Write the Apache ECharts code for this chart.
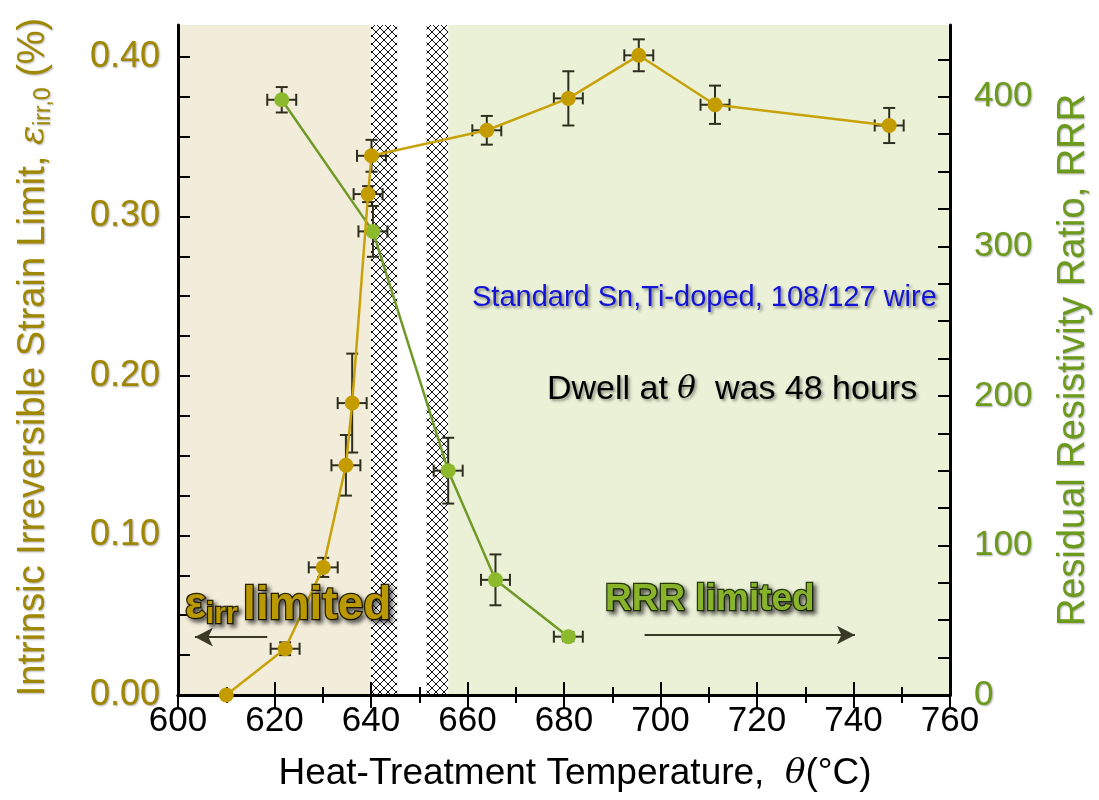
<!DOCTYPE html>
<html>
<head>
<meta charset="utf-8">
<script src="https://cdn.jsdelivr.net/npm/echarts@6/dist/echarts.min.js"></script>
<style>
  html, body { margin: 0; padding: 0; background: #fff; }
  #chart { width: 1099px; height: 800px; }
</style>
</head>
<body>
<div id="chart"></div>
<script>
// strain limit vs heat-treatment temperature
const tempStrain = [610, 622.2, 630.1, 634.8, 636.1, 639.4, 640.1, 664.0, 680.9, 695.5, 711.3, 747.4];
const strain = [0.000, 0.029, 0.080, 0.144, 0.183, 0.314, 0.338, 0.354, 0.374, 0.401, 0.370, 0.357];
const strainErr = [0, 0.004, 0.006, 0.019, 0.031, 0.005, 0.010, 0.009, 0.017, 0.010, 0.012, 0.011];
const tempErrStrain = [0, 3, 3, 3, 3, 3, 3, 3, 3, 3, 3, 3];

// RRR vs heat-treatment temperature
const tempRRR = [621.5, 640.4, 656.0, 665.8, 680.9];
const rrr = [398, 310, 150, 77, 39];
const rrrErr = [8.5, 17, 22, 17, 3];
const tempErrRRR = [3, 3, 3, 3, 3];

// background zones: beige | hatch | white | hatch | green
const zoneEdges = [600, 640, 645.5, 651.5, 656, 760];

// arrows under the "limited" labels (temperature from, to, strain level)
const arrowLeft = [618.5, 603.5, 0.0363];
const arrowRight = [696.7, 740.3, 0.0376];

const GOLD = '#c49c00';
const GOLD_TXT = '#a08700';
const GREEN = '#8cba2c';
const GREEN_LINE = '#6f9a28';
const GREEN_TXT = '#6c9a1c';
const FONT = '"Liberation Sans", Arial, sans-serif';

// crisp diamond cross-hatch tile
const hatch = document.createElement('canvas');
hatch.width = 8; hatch.height = 8;
(function () {
    const c = hatch.getContext('2d');
    c.fillStyle = '#fff';
    c.fillRect(0, 0, 8, 8);
    c.fillStyle = '#111';
    for (let i = 0; i < 8; i++) {
        c.fillRect(i, i, 1, 1);
        c.fillRect(7 - i, i, 1, 1);
    }
})();

const zoneFills = ['#f2ecda', {image: hatch, repeat: 'repeat'}, '#ffffff', {image: hatch, repeat: 'repeat'}, '#ebf1d7'];
const zones = [];
for (let i = 0; i < zoneFills.length; i++) {
    zones.push([{xAxis: zoneEdges[i], itemStyle: {color: zoneFills[i]}}, {xAxis: zoneEdges[i + 1]}]);
}

function errData(xs, ys, dxs, dys) {
    return xs.map((x, i) => [x, ys[i], dxs[i], dys[i]]);
}

function errRender(params, api) {
    const x = api.value(0), y = api.value(1), dx = api.value(2), dy = api.value(3);
    const l = api.coord([x - dx, y]), r = api.coord([x + dx, y]);
    const t = api.coord([x, y + dy]), b = api.coord([x, y - dy]);
    const cap = 6;
    const style = {stroke: '#2e2e1e', lineWidth: 2};
    const kids = [];
    if (dx > 0) {
        kids.push({type: 'line', shape: {x1: l[0], y1: l[1], x2: r[0], y2: r[1]}, style: style});
        kids.push({type: 'line', shape: {x1: l[0], y1: l[1] - cap, x2: l[0], y2: l[1] + cap}, style: style});
        kids.push({type: 'line', shape: {x1: r[0], y1: r[1] - cap, x2: r[0], y2: r[1] + cap}, style: style});
    }
    if (dy > 0) {
        kids.push({type: 'line', shape: {x1: t[0], y1: t[1], x2: b[0], y2: b[1]}, style: style});
        kids.push({type: 'line', shape: {x1: t[0] - cap, y1: t[1], x2: t[0] + cap, y2: t[1]}, style: style});
        kids.push({type: 'line', shape: {x1: b[0] - cap, y1: b[1], x2: b[0] + cap, y2: b[1]}, style: style});
    }
    return {type: 'group', children: kids};
}

const tickShadow = {textShadowColor: 'rgba(0,0,0,0.35)', textShadowBlur: 2, textShadowOffsetX: 1, textShadowOffsetY: 1};

const chart = echarts.init(document.getElementById('chart'));
chart.setOption({
    animation: false,
    backgroundColor: '#fff',
    grid: {left: 178, right: 149, top: 25, bottom: 105},
    xAxis: [
        {
            type: 'value', min: 600, max: 760, interval: 20, z: 5,
            axisLine: {lineStyle: {color: '#000', width: 3}},
            axisTick: {inside: true, length: 13, lineStyle: {color: '#000', width: 2}},
            minorTick: {show: true, splitNumber: 2, length: 8, lineStyle: {color: '#000', width: 2}},
            splitLine: {show: false},
            axisLabel: {color: '#000', fontSize: 35, fontFamily: FONT, margin: 9}
        },
        {
            type: 'value', position: 'top', min: 600, max: 760, interval: 20, z: 5,
            axisLine: {lineStyle: {color: '#000', width: 3}},
            axisTick: {inside: true, length: 13, lineStyle: {color: '#000', width: 2}},
            minorTick: {show: true, splitNumber: 2, length: 8, lineStyle: {color: '#000', width: 2}},
            splitLine: {show: false},
            axisLabel: {show: false}
        }
    ],
    yAxis: [
        {
            type: 'value', min: 0, max: 0.42, interval: 0.025, z: 5,
            axisLine: {lineStyle: {color: '#000', width: 3}},
            axisTick: {inside: true, length: 12, lineStyle: {color: '#000', width: 2}},
            splitLine: {show: false},
            axisLabel: Object.assign({
                color: GOLD_TXT, fontSize: 36, fontFamily: FONT, margin: 18, showMaxLabel: false,
                formatter: v => Math.abs(v * 10 - Math.round(v * 10)) < 1e-6 ? v.toFixed(2) : ''
            }, tickShadow)
        },
        {
            type: 'value', position: 'right', min: 0, max: 448, interval: 25, z: 5,
            axisLine: {lineStyle: {color: '#000', width: 3}},
            axisTick: {inside: true, length: 12, lineStyle: {color: '#000', width: 2}},
            splitLine: {show: false},
            axisLabel: Object.assign({
                color: GREEN_TXT, fontSize: 35, fontFamily: FONT, margin: 24, showMaxLabel: false,
                formatter: v => v % 100 === 0 ? String(v) : ''
            }, tickShadow)
        }
    ],
    graphic: [
        {
            type: 'text', x: 34, y: 357, rotation: Math.PI / 2, z: 10,
            style: {
                text: 'Intrinsic Irreversible Strain Limit, {e|ε}{s|irr,0} (%)',
                font: '38px ' + FONT, fill: GOLD_TXT, align: 'center', verticalAlign: 'middle',
                textShadowColor: 'rgba(0,0,0,0.3)', textShadowBlur: 2, textShadowOffsetX: 1, textShadowOffsetY: 1,
                rich: {
                    e: {fontFamily: '"DejaVu Serif", serif', fontStyle: 'italic', fontSize: 36, fill: GOLD_TXT, lineHeight: 42},
                    s: {fontFamily: FONT, fontSize: 23, fill: GOLD_TXT, verticalAlign: 'bottom', lineHeight: 22}
                }
            }
        },
        {
            type: 'text', x: 1074, y: 360, rotation: Math.PI / 2, z: 10,
            style: {
                text: 'Residual Resistivity Ratio, RRR',
                font: '38px ' + FONT, fill: GREEN_TXT, align: 'center', verticalAlign: 'middle',
                textShadowColor: 'rgba(0,0,0,0.3)', textShadowBlur: 2, textShadowOffsetX: 1, textShadowOffsetY: 1
            }
        },
        {
            type: 'text', x: 575, y: 774, z: 10,
            style: {
                text: 'Heat-Treatment Temperature,  {t|θ}(°C)',
                font: '37px ' + FONT, fill: '#000', align: 'center', verticalAlign: 'middle',
                rich: {
                    t: {fontFamily: '"DejaVu Serif", serif', fontStyle: 'italic', fontSize: 34, fill: '#000'}
                }
            }
        },
        {
            type: 'text', x: 472, y: 298, z: 10,
            style: {
                text: 'Standard Sn,Ti-doped, 108/127 wire',
                font: '29px ' + FONT, fill: '#1414d8', align: 'left', verticalAlign: 'middle',
                textShadowColor: 'rgba(0,0,0,0.45)', textShadowBlur: 3, textShadowOffsetX: 2, textShadowOffsetY: 2
            }
        },
        {
            type: 'text', x: 547, y: 390, z: 10,
            style: {
                text: 'Dwell at {t|θ}  was 48 hours',
                font: '34px ' + FONT, fill: '#000', align: 'left', verticalAlign: 'middle',
                textShadowColor: 'rgba(0,0,0,0.4)', textShadowBlur: 3, textShadowOffsetX: 2, textShadowOffsetY: 2,
                rich: {
                    t: {fontFamily: '"DejaVu Serif", serif', fontStyle: 'italic', fontSize: 31, fill: '#000'}
                }
            }
        },
        {
            type: 'text', x: 185, y: 606, z: 10,
            style: {
                text: '{e|ε}{s|irr}{g| }{m|limited}',
                align: 'left', verticalAlign: 'middle',
                textShadowColor: 'rgba(0,0,0,0.55)', textShadowBlur: 4, textShadowOffsetX: 3, textShadowOffsetY: 3,
                rich: {
                    e: {font: 'bold 44px ' + FONT, fill: '#b99800', stroke: '#2a2400', lineWidth: 2.5, lineHeight: 48},
                    s: {font: 'bold 30px ' + FONT, fill: '#b99800', stroke: '#2a2400', lineWidth: 2.5, verticalAlign: 'bottom', lineHeight: 30},
                    g: {font: 'bold 20px ' + FONT, lineHeight: 48},
                    m: {font: 'bold 46px ' + FONT, fill: '#b99800', stroke: '#2a2400', lineWidth: 2.5, lineHeight: 48}
                }
            }
        },
        {
            type: 'text', x: 605, y: 600, z: 10,
            style: {
                text: 'RRR limited',
                font: 'bold 37px ' + FONT, fill: '#88b42c', stroke: '#283a08', lineWidth: 2.5,
                align: 'left', verticalAlign: 'middle',
                textShadowColor: 'rgba(0,0,0,0.55)', textShadowBlur: 4, textShadowOffsetX: 3, textShadowOffsetY: 3
            }
        }
    ],
    series: [
        {
            name: 'zones', type: 'line', data: [], z: 1, silent: true,
            markArea: {silent: true, label: {show: false}, data: zones}
        },
        {
            name: 'RRR err', type: 'custom', xAxisIndex: 0, yAxisIndex: 1, z: 6,
            renderItem: errRender, encode: {x: 0, y: 1},
            data: errData(tempRRR, rrr, tempErrRRR, rrrErr)
        },
        {
            name: 'strain err', type: 'custom', xAxisIndex: 0, yAxisIndex: 0, z: 6,
            renderItem: errRender, encode: {x: 0, y: 1},
            data: errData(tempStrain, strain, tempErrStrain, strainErr)
        },
        {
            name: 'RRR', type: 'line', xAxisIndex: 0, yAxisIndex: 1, z: 7,
            data: tempRRR.map((t, i) => [t, rrr[i]]),
            symbol: 'circle', symbolSize: 15,
            itemStyle: {color: GREEN},
            lineStyle: {color: GREEN_LINE, width: 2.5}
        },
        {
            name: 'strain', type: 'line', xAxisIndex: 0, yAxisIndex: 0, z: 8,
            data: tempStrain.map((t, i) => [t, strain[i]]),
            symbol: 'circle', symbolSize: 15,
            itemStyle: {color: GOLD},
            lineStyle: {color: '#c8a20a', width: 2.5},
            markLine: {
                silent: true, symbol: ['none', 'arrow'], symbolSize: [14, 18],
                label: {show: false},
                lineStyle: {color: '#3a3a28', width: 2, type: 'solid'},
                data: [
                    [{coord: [arrowLeft[0], arrowLeft[2]]}, {coord: [arrowLeft[1], arrowLeft[2]]}],
                    [{coord: [arrowRight[0], arrowRight[2]]}, {coord: [arrowRight[1], arrowRight[2]]}]
                ]
            }
        }
    ]
});
</script>
</body>
</html>
